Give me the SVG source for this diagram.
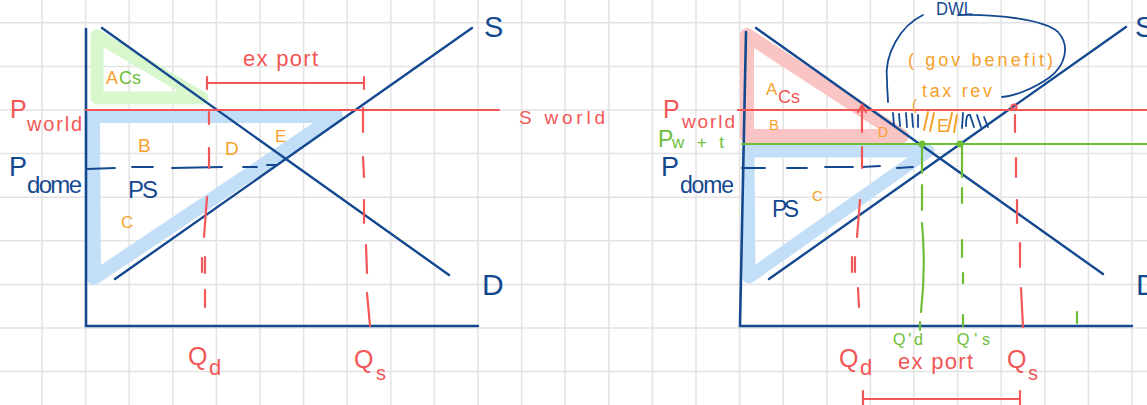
<svg xmlns="http://www.w3.org/2000/svg" width="1147" height="405" viewBox="0 0 1147 405">
<style>
.grid line{stroke:#e3e3e3;stroke-width:1.5}
.ax{stroke:#15498f;stroke-width:2.6;fill:none;stroke-linecap:round}
.cv{stroke:#15498f;stroke-width:2.4;fill:none;stroke-linecap:round}
.rd{stroke:#f25656;stroke-width:2.2;fill:none;stroke-linecap:round}
.gr{stroke:#6cbd38;stroke-width:2.2;fill:none;stroke-linecap:round}
.og{stroke:#f5a12c;stroke-width:2;fill:none;stroke-linecap:round}
.hb{stroke:#15498f;stroke-width:1.8;fill:none;stroke-linecap:round}
.t{font-family:"Liberation Sans","Open Sans",sans-serif}
.tb{fill:#15498f}
.tr{fill:#f25656}
.to{fill:#f5a12c}
.tg{fill:#6cbd38}
.band{fill:none;stroke-linejoin:round;stroke-linecap:round}
</style>
<rect width="1147" height="405" fill="#ffffff"/>
<g id="grid" class="grid">
<line x1="42" y1="0" x2="42" y2="405"/><line x1="85.6" y1="0" x2="85.6" y2="405"/><line x1="129.2" y1="0" x2="129.2" y2="405"/><line x1="172.8" y1="0" x2="172.8" y2="405"/><line x1="216.4" y1="0" x2="216.4" y2="405"/><line x1="260" y1="0" x2="260" y2="405"/><line x1="303.6" y1="0" x2="303.6" y2="405"/><line x1="347.2" y1="0" x2="347.2" y2="405"/><line x1="390.8" y1="0" x2="390.8" y2="405"/><line x1="434.4" y1="0" x2="434.4" y2="405"/><line x1="478" y1="0" x2="478" y2="405"/><line x1="521.6" y1="0" x2="521.6" y2="405"/><line x1="565.2" y1="0" x2="565.2" y2="405"/><line x1="608.8" y1="0" x2="608.8" y2="405"/><line x1="652.4" y1="0" x2="652.4" y2="405"/><line x1="696" y1="0" x2="696" y2="405"/><line x1="739.6" y1="0" x2="739.6" y2="405"/><line x1="783.2" y1="0" x2="783.2" y2="405"/><line x1="826.8" y1="0" x2="826.8" y2="405"/><line x1="870.4" y1="0" x2="870.4" y2="405"/><line x1="914" y1="0" x2="914" y2="405"/><line x1="957.6" y1="0" x2="957.6" y2="405"/><line x1="1001.2" y1="0" x2="1001.2" y2="405"/><line x1="1044.8" y1="0" x2="1044.8" y2="405"/><line x1="1088.4" y1="0" x2="1088.4" y2="405"/><line x1="1132" y1="0" x2="1132" y2="405"/>
<line x1="0" y1="22.8" x2="1147" y2="22.8"/><line x1="0" y1="66.4" x2="1147" y2="66.4"/><line x1="0" y1="110" x2="1147" y2="110"/><line x1="0" y1="153.6" x2="1147" y2="153.6"/><line x1="0" y1="197.2" x2="1147" y2="197.2"/><line x1="0" y1="240.8" x2="1147" y2="240.8"/><line x1="0" y1="284.4" x2="1147" y2="284.4"/><line x1="0" y1="328" x2="1147" y2="328"/><line x1="0" y1="371.6" x2="1147" y2="371.6"/>
</g>

<!-- LEFT CHART -->
<g id="left-cs-band"><polygon class="band" points="97,36 97,98 202,98" stroke="#d8f7cd" stroke-width="13"/></g>
<g id="left-ps-band"><polygon class="band" points="93,116 336,116 94,278" stroke="#c3dff8" stroke-width="14"/></g>
<g id="left-axes"><polyline class="ax" points="86,29 86,326 478,326"/></g>
<g id="left-demand"><line class="cv" x1="102" y1="28" x2="449" y2="275"/></g>
<g id="left-supply"><line class="cv" x1="115" y1="279" x2="472" y2="28"/></g>
<g id="left-pworld"><line class="rd" x1="86" y1="110" x2="499" y2="110"/></g>
<g id="left-pdome" class="hb">
<line x1="87" y1="169" x2="115" y2="168"/><line x1="132" y1="167" x2="153" y2="167"/><line x1="172" y1="168" x2="222" y2="167"/><line x1="243" y1="167" x2="257" y2="167"/><line x1="267" y1="165" x2="277" y2="165"/>
</g>
<g id="left-qd-dash" class="rd">
<line x1="209" y1="112" x2="209" y2="124"/><line x1="209" y1="148" x2="209" y2="168"/><line x1="207" y1="197" x2="204" y2="237"/><line x1="202" y1="258" x2="202" y2="272"/><line x1="205" y1="257" x2="205" y2="273"/><line x1="205" y1="290" x2="205" y2="307"/>
</g>
<g id="left-qs-dash" class="rd">
<line x1="363" y1="108" x2="363" y2="132"/><line x1="363" y1="157" x2="364" y2="177"/><line x1="364" y1="200" x2="364" y2="223"/><line x1="366" y1="245" x2="367" y2="273"/><line x1="367" y1="293" x2="370" y2="326"/>
</g>
<g id="left-export" class="rd">
<line x1="207" y1="83" x2="364" y2="83"/><line x1="207" y1="77" x2="207" y2="89"/><line x1="364" y1="77" x2="364" y2="89"/>
</g>
<g id="left-labels" class="t">
<text x="243" y="66" class="tr" font-size="22" textLength="75" lengthAdjust="spacing">ex port</text>
<text x="484" y="37" class="tb" font-size="29">S</text>
<text x="519" y="124" class="tr" font-size="19" textLength="86" lengthAdjust="spacing">S world</text>
<text x="482" y="295" class="tb" font-size="30">D</text>
<text x="10" y="118" class="tr" font-size="25">P</text>
<text x="27" y="131" class="tr" font-size="20" textLength="55" lengthAdjust="spacing">world</text>
<text x="9" y="176" class="tb" font-size="27">P</text>
<text x="27" y="193" class="tb" font-size="24" textLength="55" lengthAdjust="spacing">dome</text>
<text x="106" y="84" class="to" font-size="18">A</text>
<text x="119" y="84" class="tg" font-size="18">Cs</text>
<text x="138" y="152" class="to" font-size="19">B</text>
<text x="225" y="155" class="to" font-size="19">D</text>
<text x="275" y="142" class="to" font-size="17">E</text>
<text x="128" y="198" class="tb" font-size="24" textLength="30" lengthAdjust="spacing">PS</text>
<text x="121" y="228" class="to" font-size="17">C</text>
<text x="188" y="365" class="tr" font-size="25">Q</text>
<text x="209" y="375" class="tr" font-size="22">d</text>
<text x="354" y="368" class="tr" font-size="25">Q</text>
<text x="376" y="380" class="tr" font-size="20">s</text>
</g>

<!-- RIGHT CHART -->
<g id="right-cs-band"><polygon class="band" points="747,35 747,136 902,136" stroke="#fbc4c4" stroke-width="14"/></g>
<g id="right-ps-band"><polygon class="band" points="748,151 928,151 749,277" stroke="#c3dff8" stroke-width="13"/></g>
<g id="right-axes"><polyline class="ax" points="746,32 740,326 1132,326"/></g>
<g id="right-demand"><line class="cv" x1="756" y1="28" x2="1103" y2="274"/></g>
<g id="right-supply"><line class="cv" x1="769" y1="279" x2="1126" y2="27"/></g>
<g id="right-pworld"><line class="rd" x1="738" y1="110" x2="1147" y2="110"/></g>
<g id="right-pwt"><line class="gr" x1="742" y1="144" x2="1147" y2="144"/></g>
<g id="right-pdome" class="hb">
<line x1="742" y1="168" x2="765" y2="168"/><line x1="787" y1="168" x2="807" y2="168"/><line x1="825" y1="167" x2="853" y2="167"/><line x1="862" y1="167" x2="880" y2="166"/><line x1="897" y1="168" x2="913" y2="167"/>
</g>
<g id="right-qd-dash" class="rd">
<line x1="862" y1="106" x2="862" y2="132"/><path d="M858,112 L862,105 L866,112"/><line x1="862" y1="147" x2="862" y2="168"/><line x1="860" y1="200" x2="857" y2="237"/><line x1="852" y1="257" x2="852" y2="272"/><line x1="855" y1="257" x2="855" y2="272"/><line x1="858" y1="288" x2="859" y2="307"/>
</g>
<g id="right-qs-dash" class="rd">
<circle cx="1014" cy="107" r="2.5"/><line x1="1015" y1="115" x2="1015" y2="132"/><line x1="1016" y1="158" x2="1016" y2="177"/><line x1="1017" y1="200" x2="1017" y2="223"/><line x1="1020" y1="243" x2="1020" y2="267"/><line x1="1021" y1="288" x2="1023" y2="327"/>
</g>
<g id="right-qd-prime" class="gr">
<line x1="922" y1="145" x2="922" y2="173"/><line x1="922" y1="185" x2="922" y2="210"/><path d="M922,223 Q926,268 921,312"/><line x1="920" y1="322" x2="920" y2="330"/>
<circle cx="922" cy="144" r="3.5" fill="#6cbd38" stroke="none"/>
</g>
<g id="right-qs-prime" class="gr">
<line x1="962" y1="145" x2="962" y2="177"/><line x1="962" y1="188" x2="962" y2="203"/><line x1="962" y1="240" x2="962" y2="257"/><line x1="963" y1="273" x2="963" y2="283"/><line x1="963" y1="315" x2="963" y2="326"/>
<circle cx="960" cy="144" r="3.5" fill="#6cbd38" stroke="none"/>
<line x1="1077" y1="312" x2="1077" y2="323"/>
</g>
<g id="right-export" class="rd">
<line x1="863" y1="399" x2="1020" y2="399"/><line x1="863" y1="391" x2="863" y2="405"/><line x1="1020" y1="391" x2="1020" y2="405"/>
</g>
<g id="right-hatch">
<g class="hb">
<line x1="893" y1="113" x2="894" y2="125"/><line x1="899" y1="114" x2="900" y2="126"/><line x1="906" y1="113" x2="907" y2="127"/><line x1="912" y1="114" x2="913" y2="127"/><line x1="918" y1="115" x2="918" y2="127"/>
<line x1="963" y1="113" x2="962" y2="128"/><path d="M966,126 Q966,113 970,115 L974,127"/><line x1="977" y1="115" x2="981" y2="127"/><line x1="984" y1="117" x2="988" y2="127"/>
</g>
<g class="og">
<line x1="928" y1="112" x2="924" y2="130"/><line x1="934" y1="113" x2="930" y2="131"/><line x1="952" y1="113" x2="948" y2="131"/><line x1="957" y1="115" x2="954" y2="132"/>
</g>
<text x="937" y="132" class="t to" font-size="18">E</text>
</g>
<g id="right-dwl-loop">
<path class="hb" d="M923,15 C900,26 884,55 887,80 C887,90 888,97 888,102"/>
<path class="hb" d="M958,15 C1000,14 1045,20 1058,32 C1070,45 1066,65 1050,77 C1035,88 1015,96 1002,97"/>
</g>
<g id="right-labels" class="t">
<text x="936" y="15" class="tb" font-size="19" textLength="37" lengthAdjust="spacingAndGlyphs">DWL</text>
<text x="908" y="66" class="to" font-size="18" textLength="145" lengthAdjust="spacing">( gov benefit)</text>
<text x="922" y="97" class="to" font-size="18" textLength="70" lengthAdjust="spacing">tax rev</text>
<text x="912" y="110" class="to" font-size="15">(</text>
<text x="1135" y="37" class="tb" font-size="29">S</text>
<text x="1136" y="295" class="tb" font-size="30">D</text>
<text x="663" y="118" class="tr" font-size="25">P</text>
<text x="682" y="128" class="tr" font-size="19" textLength="53" lengthAdjust="spacing">world</text>
<text x="658" y="147" class="tg" font-size="23">P</text>
<text x="672" y="148" class="tg" font-size="17" textLength="52" lengthAdjust="spacing">w + t</text>
<text x="661" y="176" class="tb" font-size="27">P</text>
<text x="680" y="193" class="tb" font-size="23" textLength="54" lengthAdjust="spacing">dome</text>
<text x="766" y="95" class="to" font-size="17">A</text>
<text x="778" y="103" class="tr" font-size="18">Cs</text>
<text x="769" y="130" class="to" font-size="15">B</text>
<text x="878" y="137" class="to" font-size="14">D</text>
<text x="772" y="217" class="tb" font-size="23" textLength="27" lengthAdjust="spacing">PS</text>
<text x="812" y="201" class="to" font-size="15">C</text>
<text x="893" y="345" class="tg" font-size="16" textLength="30" lengthAdjust="spacing">Q'd</text>
<text x="957" y="345" class="tg" font-size="16" textLength="33" lengthAdjust="spacing">Q's</text>
<text x="839" y="367" class="tr" font-size="25">Q</text>
<text x="860" y="375" class="tr" font-size="22">d</text>
<text x="898" y="369" class="tr" font-size="22" textLength="75" lengthAdjust="spacing">ex port</text>
<text x="1007" y="368" class="tr" font-size="25">Q</text>
<text x="1028" y="380" class="tr" font-size="20">s</text>
</g>
</svg>
